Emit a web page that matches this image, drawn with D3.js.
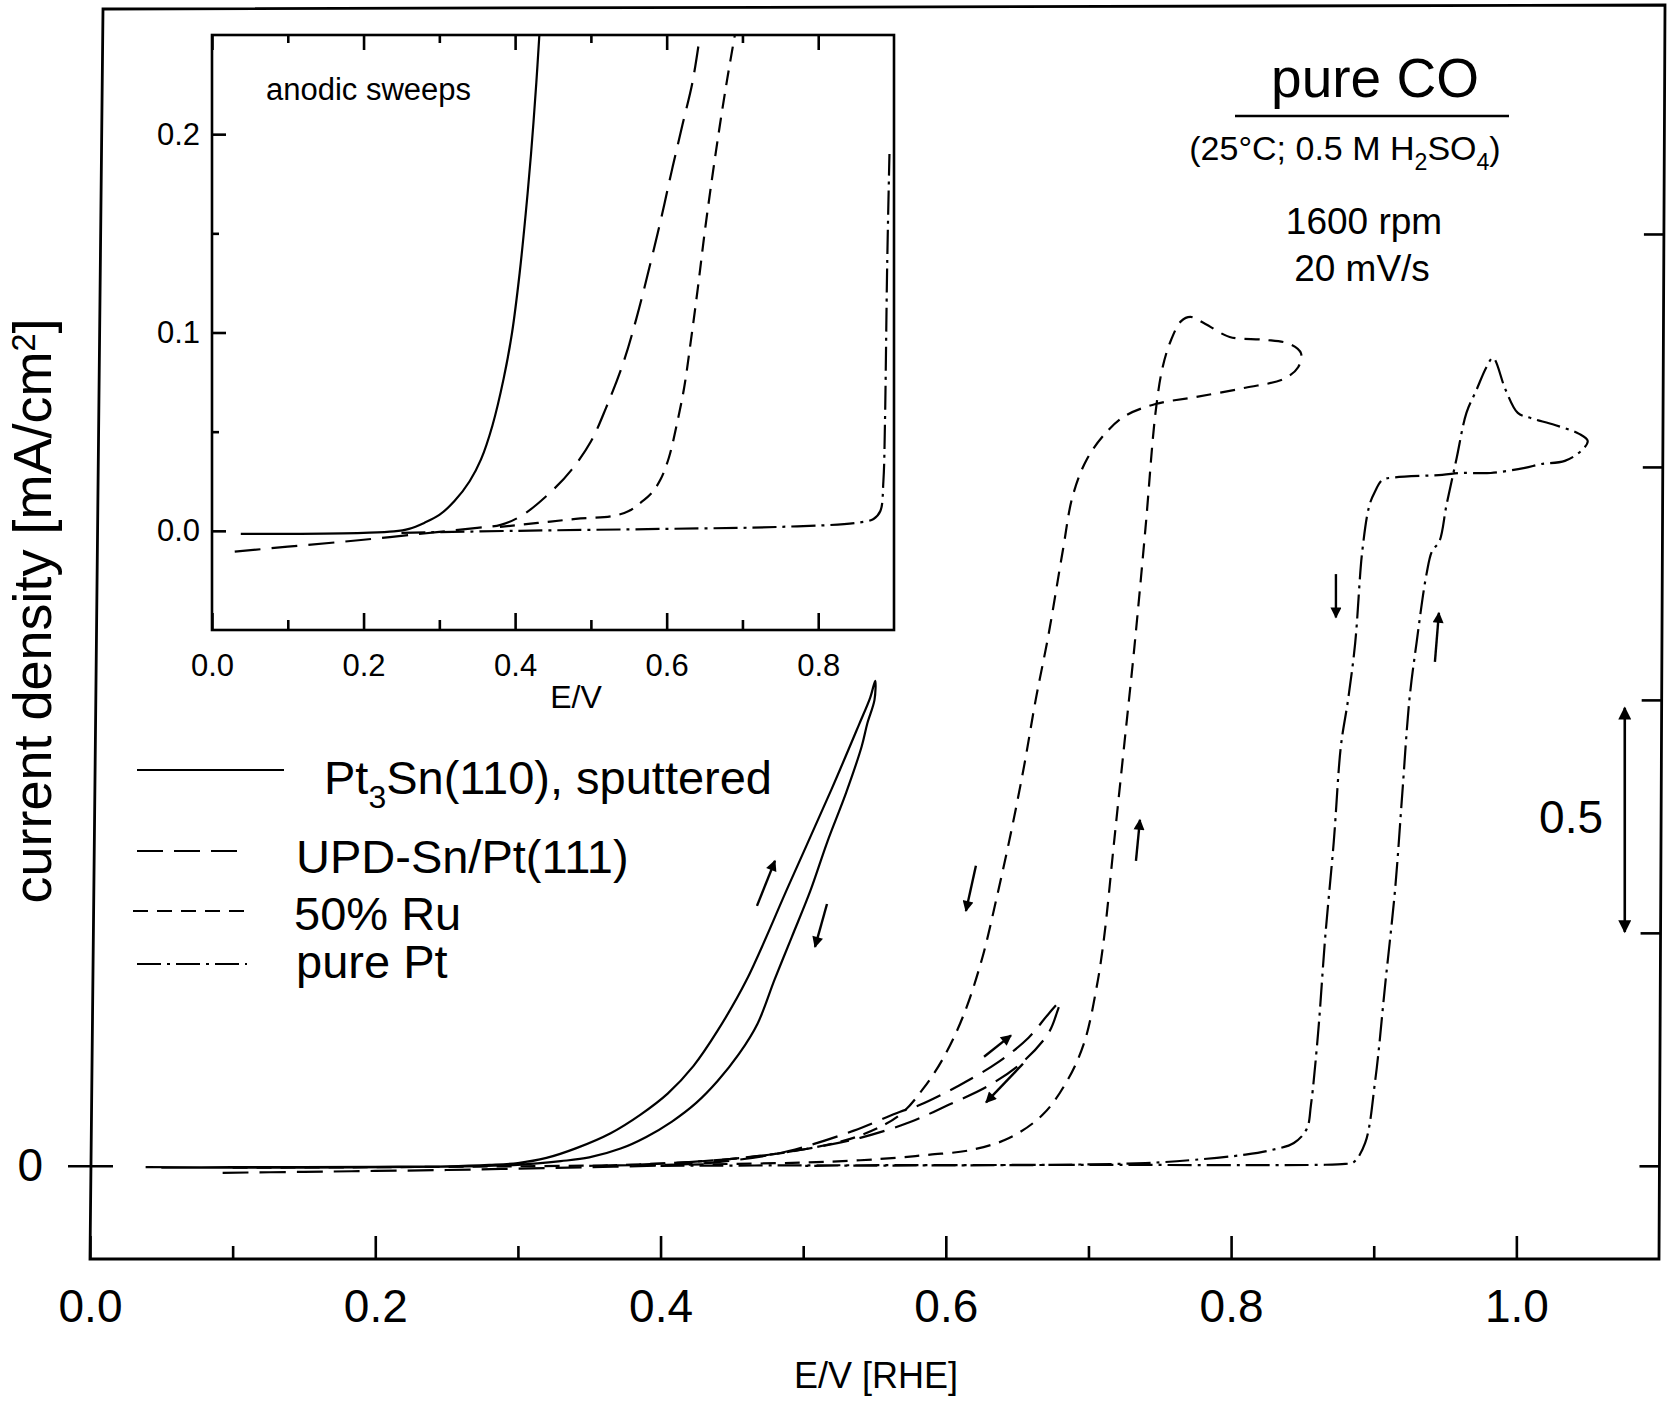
<!DOCTYPE html>
<html><head><meta charset="utf-8">
<script src="https://cdn.jsdelivr.net/npm/d3@7"></script>
<style>
body{margin:0;background:#fff}
svg{display:block}
text{font-family:"Liberation Sans",Arial,Helvetica,sans-serif;fill:#000}
</style>
</head><body>
<svg id="c" width="1672" height="1401"></svg>
<script>
// ---------------- data ----------------
const mainXMajor = [0, 0.2, 0.4, 0.6, 0.8, 1.0];
const mainXMinor = [0.1, 0.3, 0.5, 0.7, 0.9];
const mainRightTicks = [0, 0.5, 1.0, 1.5, 2.0];
const mainLeftTicks = [0];
const insetXMajor = [0, 0.2, 0.4, 0.6, 0.8];
const insetXMinor = [0.1, 0.3, 0.5, 0.7];
const insetYMajor = [0, 0.1, 0.2];
const insetYMinor = [0.05, 0.15];

// main panel: E [V], j [mA/cm2]
const pt3snMain = [
 [0.039,-0.003],[0.10,-0.003],[0.20,-0.002],[0.25,-0.001],[0.28,0.002],[0.30,0.006],[0.32,0.017],[0.341,0.038],
 [0.365,0.070],[0.386,0.110],[0.405,0.155],[0.423,0.214],[0.44,0.290],[0.46,0.397],[0.49,0.603],[0.52,0.809],
 [0.539,0.946],[0.547,1.005],[0.5505,1.041],
 [0.550,1.000],[0.545,0.950],[0.541,0.900],[0.530,0.800],[0.517,0.696],[0.505,0.590],[0.492,0.491],[0.480,0.400],
 [0.468,0.305],[0.455,0.240],[0.440,0.182],[0.425,0.135],[0.408,0.095],[0.390,0.062],[0.372,0.037],[0.350,0.018],
 [0.33,0.010],[0.30,0.002],[0.25,-0.002],[0.15,-0.004],[0.05,-0.004]
];
const updMain = [
 [0.093,-0.015],[0.15,-0.013],[0.20,-0.011],[0.25,-0.009],[0.30,-0.006],[0.35,-0.003],[0.40,0.001],[0.44,0.008],
 [0.48,0.025],[0.50,0.040],[0.535,0.075],[0.568,0.116],[0.582,0.131],[0.609,0.172],[0.637,0.223],[0.658,0.275],
 [0.672,0.326],[0.680,0.352],
 [0.678,0.330],[0.672,0.285],[0.654,0.223],[0.630,0.172],[0.602,0.131],[0.575,0.094],[0.54,0.060],[0.50,0.035],
 [0.46,0.018],[0.42,0.008],[0.38,0.002]
];
const ruMain = [
 [0.10,-0.004],[0.20,-0.003],[0.30,-0.001],[0.40,0.002],[0.45,0.004],[0.50,0.007],[0.54,0.012],[0.568,0.018],
 [0.589,0.024],[0.616,0.033],[0.644,0.059],[0.668,0.110],[0.685,0.182],[0.697,0.264],[0.706,0.388],[0.711,0.491],
 [0.718,0.696],[0.725,0.901],[0.732,1.107],[0.740,1.369],[0.747,1.616],[0.752,1.714],[0.758,1.773],[0.765,1.813],
 [0.7715,1.822],[0.782,1.807],[0.799,1.779],[0.823,1.773],[0.841,1.764],[0.849,1.744],
 [0.847,1.714],[0.837,1.689],[0.810,1.670],[0.775,1.650],[0.747,1.635],[0.726,1.610],[0.713,1.576],[0.699,1.517],
 [0.689,1.438],[0.682,1.320],[0.672,1.140],[0.663,1.000],[0.655,0.860],[0.646,0.720],[0.636,0.580],[0.625,0.440],
 [0.612,0.320],[0.598,0.230],[0.584,0.165],[0.568,0.110],[0.54,0.065],[0.50,0.035],[0.45,0.015],[0.40,0.005],[0.35,0.000]
];
const ptMain = [
 [0.40,0.000],[0.50,0.001],[0.70,0.002],[0.86,0.002],[0.880,0.004],[0.886,0.008],[0.894,0.049],[0.901,0.182],
 [0.908,0.388],[0.915,0.594],[0.920,0.798],[0.925,1.000],[0.930,1.122],[0.937,1.270],[0.941,1.320],[0.946,1.340],
 [0.951,1.418],[0.958,1.517],[0.965,1.616],[0.972,1.665],[0.979,1.714],[0.9836,1.734],[0.9925,1.665],[1.001,1.616],
 [1.010,1.605],[1.027,1.590],[1.044,1.571],[1.050,1.556],
 [1.046,1.536],[1.034,1.513],[1.017,1.506],[1.006,1.498],[0.982,1.487],[0.961,1.487],[0.948,1.483],[0.913,1.477],
 [0.906,1.472],[0.901,1.448],[0.897,1.418],[0.892,1.320],[0.887,1.122],[0.882,1.000],[0.877,0.901],[0.872,0.696],
 [0.866,0.491],[0.861,0.285],[0.856,0.131],[0.853,0.079],[0.844,0.049],[0.827,0.033],[0.810,0.024],[0.775,0.013],
 [0.740,0.006],[0.672,0.002],[0.60,0.001],[0.50,0.000]
];

// inset: anodic sweeps
const pt3snInset = [
 [0.038,-0.0015],[0.10,-0.0015],[0.20,-0.001],[0.24,-0.0003],[0.26,0.001],[0.28,0.004],[0.30,0.008],[0.32,0.015],
 [0.34,0.025],[0.355,0.036],[0.37,0.053],[0.385,0.077],[0.396,0.100],[0.406,0.130],[0.414,0.160],[0.421,0.190],
 [0.428,0.226],[0.432,0.250]
];
const updInset = [
 [0.030,-0.0105],[0.10,-0.008],[0.20,-0.0045],[0.30,-0.0005],[0.35,0.0015],[0.381,0.003],[0.41,0.008],[0.451,0.021],
 [0.475,0.031],[0.50,0.045],[0.52,0.062],[0.543,0.085],[0.56,0.107],[0.578,0.134],[0.593,0.158],[0.607,0.182],
 [0.621,0.205],[0.634,0.226],[0.644,0.250]
];
const ruInset = [
 [0.38,0.002],[0.43,0.004],[0.48,0.006],[0.529,0.0075],[0.55,0.010],[0.565,0.014],[0.58,0.019],[0.592,0.026],
 [0.603,0.037],[0.613,0.053],[0.623,0.072],[0.632,0.096],[0.641,0.122],[0.650,0.150],[0.660,0.178],[0.670,0.204],
 [0.680,0.228],[0.690,0.250]
];
const ptInset = [
 [0.25,-0.001],[0.40,0.000],[0.60,0.001],[0.75,0.002],[0.85,0.004],[0.873,0.006],[0.882,0.010],[0.886,0.025],
 [0.888,0.053],[0.891,0.134],[0.894,0.190]
];

// direction arrows on the main panel: [E_tail, j_tail, E_head, j_head]
const sweepArrows = [
 [0.4676,0.558,0.4802,0.6545],
 [0.5167,0.562,0.5083,0.470],
 [0.6211,0.644,0.6141,0.547],
 [0.7333,0.6545,0.7361,0.7425],
 [0.6268,0.234,0.6457,0.280],
 [0.6541,0.219,0.6282,0.136],
 [0.8735,1.270,0.8735,1.177],
 [0.9429,1.0815,0.9457,1.1867]
];
// scale bar: E, j from, j to, label
const scaleBarE = 1.076;
const scaleBarJ = [0.502, 0.983];
const scaleBarLabel = "0.5";

const seriesNames = ["Pt3Sn(110), sputtered", "UPD-Sn/Pt(111)", "50% Ru", "pure Pt"];
const legendParts = [
 [["Pt",""],["3","sub"],["Sn(110), sputtered",""]],
 [["UPD-Sn/Pt(111)",""]],
 [["50% Ru",""]],
 [["pure Pt",""]]
];
const dashes = ["none", "26,11", "15,9", "24,6,3,6"];

// ---------------- drawing ----------------
const svg = d3.select("#c");
const defs = svg.append("defs");
defs.append("marker").attr("id","ah").attr("viewBox","0 0 10 10").attr("refX",9).attr("refY",5)
  .attr("markerUnits","userSpaceOnUse").attr("markerWidth",17).attr("markerHeight",11).attr("orient","auto")
  .append("path").attr("d","M0,0 L10,5 L0,10 z").attr("fill","#000");
defs.append("marker").attr("id","ahb").attr("viewBox","0 0 10 10").attr("refX",9).attr("refY",5)
  .attr("markerUnits","userSpaceOnUse").attr("markerWidth",24).attr("markerHeight",13).attr("orient","auto-start-reverse")
  .append("path").attr("d","M0,0 L10,5 L0,10 z").attr("fill","#000");

const x = d3.scaleLinear().domain([0, 1.1]).range([90, 1659]);
const y = d3.scaleLinear().domain([-0.2, 2.485]).range([1259, 8]);
const xi = d3.scaleLinear().domain([0, 0.9]).range([212, 894]);
const yi = d3.scaleLinear().domain([-0.05, 0.25]).range([630, 35]);

// the scanned frame leans slightly: horizontal offset of left / right edges at the top
const leanL = 13, leanR = 6;
const edgeR = yy => x(1.1) + leanR * (y(-0.2) - yy) / (y(-0.2) - y(2.485));

function richText(sel, parts, size) {
  let shift = 0;
  parts.forEach(([t, k]) => {
    const ts = sel.append("tspan").text(t);
    let target = 0, fs = size;
    if (k === "sub") { target = 0.3 * size; fs = 0.68 * size; }
    if (k === "sup") { target = -0.3 * size; fs = 0.6 * size; }
    ts.attr("dy", target - shift).attr("font-size", fs);
    shift = target;
  });
}

// main frame
const x0 = x(0), x1 = x(1.1), yb = y(-0.2), ytp = y(2.485);
svg.append("path")
  .attr("d", `M${x0},${yb} L${x1},${yb} L${x1 + leanR},${ytp - 3} L${x0 + leanL},${ytp + 1} Z`)
  .attr("fill","none").attr("stroke","#000").attr("stroke-width",2.8).attr("stroke-linejoin","miter");

function styleAxis(g) {
  g.select(".domain").remove();
  g.selectAll(".tick line").attr("stroke","#000").attr("stroke-width",2.6);
  g.selectAll(".tick text").attr("fill","#000").attr("font-family","Liberation Sans, Arial, sans-serif");
}

const bottomMajor = svg.append("g").attr("transform",`translate(0,${yb})`)
  .call(d3.axisBottom(x).tickValues(mainXMajor).tickSize(-23).tickPadding(30).tickFormat(d3.format(".1f")));
styleAxis(bottomMajor); bottomMajor.selectAll("text").attr("font-size",46);
const bottomMinor = svg.append("g").attr("transform",`translate(0,${yb})`)
  .call(d3.axisBottom(x).tickValues(mainXMinor).tickSize(-13).tickFormat(""));
styleAxis(bottomMinor);
const rightAx = svg.append("g").attr("transform",`translate(${x1},0)`)
  .call(d3.axisRight(y).tickValues(mainRightTicks).tickSize(-20).tickFormat(""));
styleAxis(rightAx);
rightAx.selectAll(".tick line").each(function(d) {
  const off = edgeR(y(d)) - x1;
  d3.select(this).attr("x1", off).attr("x2", off - 20);
});
const leftAx = svg.append("g").attr("transform",`translate(${x0},0)`)
  .call(d3.axisLeft(y).tickValues(mainLeftTicks).tickSize(22).tickPadding(25).tickFormat(d3.format("d")));
styleAxis(leftAx); leftAx.selectAll("text").attr("font-size",46);
leftAx.selectAll(".tick line").attr("x1",23);

// axis titles
svg.append("text").attr("x", 876).attr("y", 1388).attr("text-anchor","middle").attr("font-size",36).text("E/V [RHE]");
const yt = svg.append("text").attr("transform","translate(51,611) rotate(-90)").attr("text-anchor","middle");
richText(yt, [["current density [mA/cm",""],["2","sup"],["]",""]], 54);

// main curves
const line = d3.line().x(d => x(d[0])).y(d => y(d[1])).curve(d3.curveCatmullRom.alpha(0.5));
const mainSeries = [pt3snMain, updMain, ruMain, ptMain];
mainSeries.forEach((s, i) => {
  svg.append("path").datum(s).attr("d", line).attr("fill","none").attr("stroke","#000")
    .attr("stroke-width", 2.2).attr("stroke-dasharray", dashes[i]).attr("stroke-linejoin","round");
});

// sweep arrows
svg.selectAll("line.sw").data(sweepArrows).enter().append("line").attr("class","sw")
  .attr("x1", d => x(d[0])).attr("y1", d => y(d[1])).attr("x2", d => x(d[2])).attr("y2", d => y(d[3]))
  .attr("stroke","#000").attr("stroke-width",2.4).attr("marker-end","url(#ah)");

// scale bar
svg.append("line").attr("x1", x(scaleBarE)).attr("x2", x(scaleBarE)).attr("y1", y(scaleBarJ[0])).attr("y2", y(scaleBarJ[1]))
  .attr("stroke","#000").attr("stroke-width",2.6).attr("marker-start","url(#ahb)").attr("marker-end","url(#ahb)");
svg.append("text").attr("x", 1603).attr("y", 833).attr("text-anchor","end").attr("font-size",46).text(scaleBarLabel);

// legend
const legLineY = [770, 851, 911, 964];
const legLineX = [[137,284],[137,247],[133,253],[137,247]];
const legTextX = [324, 296, 294, 296];
const legTextY = [794, 873, 930, 978];
seriesNames.forEach((nm, i) => {
  svg.append("line").attr("x1", legLineX[i][0]).attr("x2", legLineX[i][1]).attr("y1", legLineY[i]).attr("y2", legLineY[i])
    .attr("stroke","#000").attr("stroke-width",2.2).attr("stroke-dasharray", dashes[i]);
  const t = svg.append("text").attr("x", legTextX[i]).attr("y", legTextY[i]).attr("font-size",47);
  richText(t, legendParts[i], 47);
});

// title block
svg.append("text").attr("x", 1375).attr("y", 97).attr("text-anchor","middle").attr("font-size",55).text("pure CO");
svg.append("line").attr("x1",1235).attr("x2",1509).attr("y1",116).attr("y2",116).attr("stroke","#000").attr("stroke-width",2.6);
const cond = svg.append("text").attr("x", 1345).attr("y", 160).attr("text-anchor","middle").attr("font-size",34);
richText(cond, [["(25°C; 0.5 M H",""],["2","sub"],["SO",""],["4","sub"],[")",""]], 34);
svg.append("text").attr("x", 1364).attr("y", 234).attr("text-anchor","middle").attr("font-size",37).text("1600 rpm");
svg.append("text").attr("x", 1362).attr("y", 281).attr("text-anchor","middle").attr("font-size",37).text("20 mV/s");

// ---------------- inset ----------------
const ins = svg.append("g");
const ix0 = xi(0), ix1 = xi(0.9), iyt = yi(0.25), iyb = yi(-0.05);
ins.append("rect").attr("x", ix0).attr("y", iyt).attr("width", ix1 - ix0).attr("height", iyb - iyt)
  .attr("fill","#fff").attr("stroke","none");
defs.append("clipPath").attr("id","insclip").append("rect")
  .attr("x", ix0).attr("y", iyt).attr("width", ix1 - ix0).attr("height", iyb - iyt);
const lineI = d3.line().x(d => xi(d[0])).y(d => yi(d[1])).curve(d3.curveCatmullRom.alpha(0.5));
const insetSeries = [pt3snInset, updInset, ruInset, ptInset];
const curvesI = ins.append("g").attr("clip-path","url(#insclip)");
insetSeries.forEach((s, i) => {
  curvesI.append("path").datum(s).attr("d", lineI).attr("fill","none").attr("stroke","#000")
    .attr("stroke-width", 2.2).attr("stroke-dasharray", dashes[i]).attr("stroke-linejoin","round");
});
ins.append("rect").attr("x", ix0).attr("y", iyt).attr("width", ix1 - ix0).attr("height", iyb - iyt)
  .attr("fill","none").attr("stroke","#000").attr("stroke-width",2.6);

const ibMaj = ins.append("g").attr("transform",`translate(0,${iyb})`)
  .call(d3.axisBottom(xi).tickValues(insetXMajor).tickSize(-17).tickPadding(24).tickFormat(d3.format(".1f")));
styleAxis(ibMaj); ibMaj.selectAll("text").attr("font-size",31);
const ibMin = ins.append("g").attr("transform",`translate(0,${iyb})`)
  .call(d3.axisBottom(xi).tickValues(insetXMinor).tickSize(-10).tickFormat(""));
styleAxis(ibMin);
const itMaj = ins.append("g").attr("transform",`translate(0,${iyt})`)
  .call(d3.axisTop(xi).tickValues(insetXMajor).tickSize(-15).tickFormat(""));
styleAxis(itMaj);
const itMin = ins.append("g").attr("transform",`translate(0,${iyt})`)
  .call(d3.axisTop(xi).tickValues(insetXMinor).tickSize(-8).tickFormat(""));
styleAxis(itMin);
const ilMaj = ins.append("g").attr("transform",`translate(${ix0},0)`)
  .call(d3.axisLeft(yi).tickValues(insetYMajor).tickSize(-14).tickPadding(12).tickFormat(d3.format(".1f")));
styleAxis(ilMaj); ilMaj.selectAll("text").attr("font-size",31);
const ilMin = ins.append("g").attr("transform",`translate(${ix0},0)`)
  .call(d3.axisLeft(yi).tickValues(insetYMinor).tickSize(-7).tickFormat(""));
styleAxis(ilMin);

ins.append("text").attr("x", 576).attr("y", 708).attr("text-anchor","middle").attr("font-size",32).text("E/V");
ins.append("text").attr("x", 266).attr("y", 100).attr("font-size",31).text("anodic sweeps");
</script>
</body></html>
